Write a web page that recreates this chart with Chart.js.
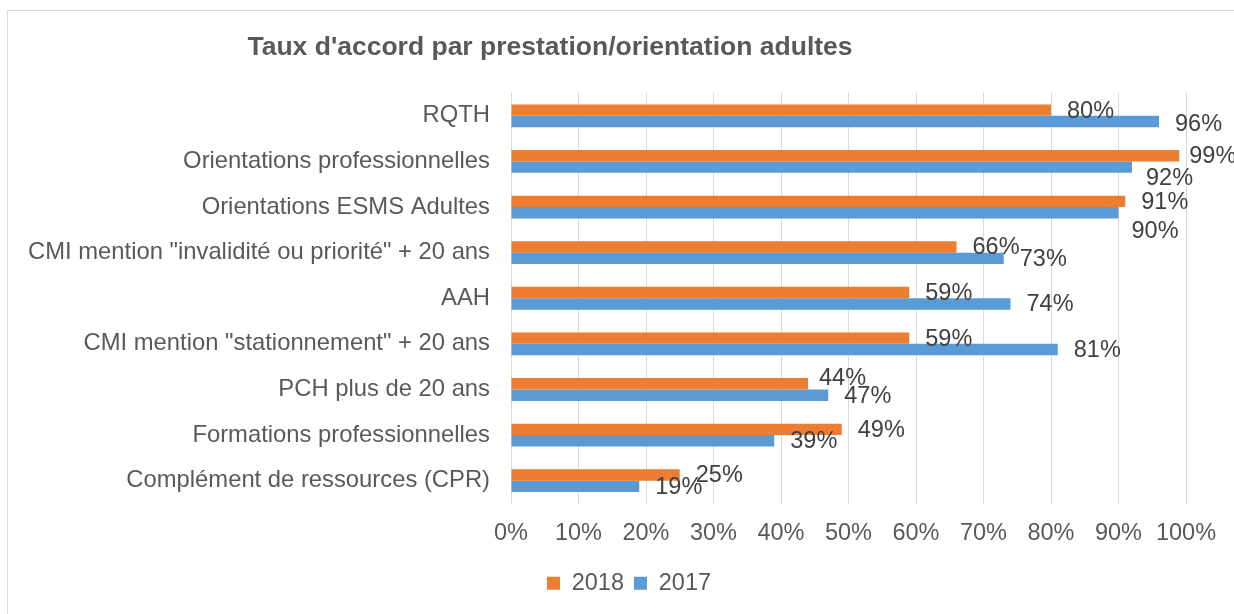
<!DOCTYPE html>
<html>
<head>
<meta charset="utf-8">
<script src="https://cdn.jsdelivr.net/npm/chart.js@4"></script>
<style>
    html, body { margin: 0; padding: 0; background: #fff; }
    #wrap { width: 1234px; height: 614px; }
</style>
</head>
<body>
<div id="wrap"><canvas id="tauxChart" width="1234" height="614"></canvas></div>
<script>
// data
const categories = [
    'RQTH',
    'Orientations professionnelles',
    'Orientations ESMS Adultes',
    'CMI mention "invalidité ou priorité" + 20 ans',
    'AAH',
    'CMI mention "stationnement" + 20 ans',
    'PCH plus de 20 ans',
    'Formations professionnelles',
    'Complément de ressources (CPR)'
];
const values2018 = [80, 99, 91, 66, 59, 59, 44, 49, 25];
const values2017 = [96, 92, 90, 73, 74, 81, 47, 39, 19];
const seriesNames = ['2018', '2017'];
const chartTitle = "Taux d'accord par prestation/orientation adultes";

const FONT = '"Liberation Sans", Arial, sans-serif';
const TEXT = '#595959';

// Excel moved a few labels around to avoid overlaps
const labelNudge = {
    '0-1': [-6, 0],
    '1-0': [0, 2],
    '1-1': [-2, 10],
    '1-2': [-3, 18],
    '0-6': [-5, -6]
};

const frameAndTitle = {
    id: 'frameAndTitle',
    afterLayout(chart) {
        // legend sits a bit right of the canvas centre in the original
        chart.legend.left = 72;
    },
    beforeDraw(chart) {
        const ctx = chart.ctx;
        ctx.save();
        ctx.fillStyle = '#fff';
        ctx.fillRect(0, 0, chart.width, chart.height);
        ctx.strokeStyle = '#D9D9D9';
        ctx.lineWidth = 1;
        ctx.beginPath();
        ctx.moveTo(chart.width + 5, 10.5);
        ctx.lineTo(7.5, 10.5);
        ctx.lineTo(7.5, chart.height + 5);
        ctx.stroke();
        ctx.fillStyle = TEXT;
        ctx.font = 'bold 26.5px ' + FONT;
        ctx.textAlign = 'center';
        ctx.textBaseline = 'middle';
        ctx.fillText(chartTitle, 550, 48);
        ctx.restore();
    }
};

const barLabels = {
    id: 'barLabels',
    afterDatasetsDraw(chart) {
        const ctx = chart.ctx;
        ctx.save();
        ctx.font = '23.5px ' + FONT;
        ctx.fillStyle = '#404040';
        ctx.textAlign = 'left';
        ctx.textBaseline = 'middle';
        chart.data.datasets.forEach((ds, di) => {
            chart.getDatasetMeta(di).data.forEach((bar, i) => {
                const n = labelNudge[di + '-' + i] || [0, 0];
                ctx.fillText(ds.data[i] + '%', bar.x + 16 + n[0], bar.y + 1 + n[1]);
            });
        });
        ctx.restore();
    }
};

const ctx = document.getElementById('tauxChart').getContext('2d');
const tauxChart = new Chart(ctx, {
    type: 'bar',
    data: {
        labels: categories,
        datasets: [
            {
                label: seriesNames[0],
                data: values2018,
                backgroundColor: '#ED7D31',
                categoryPercentage: 0.5,
                barPercentage: 1
            },
            {
                label: seriesNames[1],
                data: values2017,
                backgroundColor: '#5B9BD5',
                categoryPercentage: 0.5,
                barPercentage: 1
            }
        ]
    },
    options: {
        indexAxis: 'y',
        responsive: false,
        animation: false,
        layout: {
            padding: { left: 0, right: 48, top: 93, bottom: 9 }
        },
        scales: {
            x: {
                min: 0,
                max: 100,
                ticks: {
                    stepSize: 10,
                    padding: 16,
                    color: TEXT,
                    font: { family: FONT, size: 23.5 },
                    callback: v => v + '%'
                },
                grid: { color: '#D9D9D9', drawTicks: false },
                border: { display: false },
                afterFit(scale) { scale.height = 58; }
            },
            y: {
                ticks: {
                    autoSkip: false,
                    padding: 21,
                    color: TEXT,
                    font: { family: FONT, size: 23.8 }
                },
                grid: { display: false, drawTicks: false },
                border: { display: false },
                afterFit(scale) { scale.width = 511; }
            }
        },
        plugins: {
            legend: {
                position: 'bottom',
                labels: {
                    boxWidth: 13,
                    boxHeight: 13,
                    padding: 10,
                    color: TEXT,
                    font: { family: FONT, size: 23.5 }
                }
            },
            tooltip: { enabled: false }
        }
    },
    plugins: [frameAndTitle, barLabels]
});
</script>
</body>
</html>
